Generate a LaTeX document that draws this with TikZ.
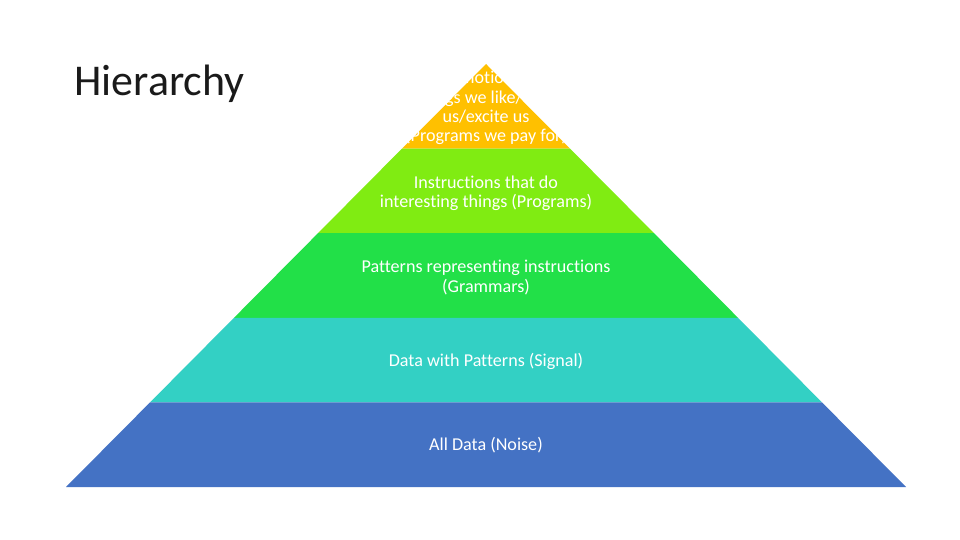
\documentclass[tikz,border=0pt]{standalone}
\usepackage{fontspec}
\setmainfont{Carlito}[Ligatures=NoCommon]
\definecolor{apgold}{HTML}{FFC000}
\definecolor{prlime}{HTML}{80EC12}
\definecolor{grgreen}{HTML}{22E048}
\definecolor{sgteal}{HTML}{33D0C4}
\definecolor{nsblue}{HTML}{4472C4}
\definecolor{ttlgray}{HTML}{1A1A1A}
\tikzset{
  layertext/.style={white,font=\fontsize{10.3}{11}\selectfont,align=center,inner sep=0pt},
}

\begin{document}
\begin{tikzpicture}[x=0.02cm,y=-0.02cm]

% === Page ===
\fill[white] (0,0) rectangle (960,540);
\useasboundingbox (0,0) rectangle (960,540);

% Pyramid: apex, base line, half width of base
\def\apX{486}
\def\apY{64}
\def\baseY{487}
\def\halfW{420}

% === Five bands of the pyramid, top to bottom ===
\foreach \i/\col in {0/apgold,1/prlime,2/grgreen,3/sgteal,4/nsblue}{
  \pgfmathsetmacro\ya{\apY+\i/5*(\baseY-\apY)}
  \pgfmathsetmacro\yb{\apY+(\i+1)/5*(\baseY-\apY)}
  \pgfmathsetmacro\wa{\i/5*\halfW}
  \pgfmathsetmacro\wb{(\i+1)/5*\halfW}
  \fill[\col] (\apX-\wa,\ya) -- (\apX+\wa,\ya) -- (\apX+\wb,\yb) -- (\apX-\wb,\yb) -- cycle;
}

% === Title ===
\node[ttlgray,font=\fontsize{25}{30}\selectfont,anchor=base west,inner sep=0pt] (title) at (74,96) {Hierarchy};

% === Band labels (centred in each band) ===
\node[layertext] (apps) at (\apX,108) {Emotions\\Things we like/ help\\us/excite us\\(Programs we pay for)};
\node[layertext] (progs) at (\apX,193) {Instructions that do\\interesting things (Programs)};
\node[layertext] (gram) at (\apX,277.5) {Patterns representing instructions\\(Grammars)};
\node[layertext] (signal) at (\apX,361) {Data with Patterns (Signal)};
\node[layertext] (noise) at (\apX,445.5) {All Data (Noise)};

\end{tikzpicture}
\end{document}
